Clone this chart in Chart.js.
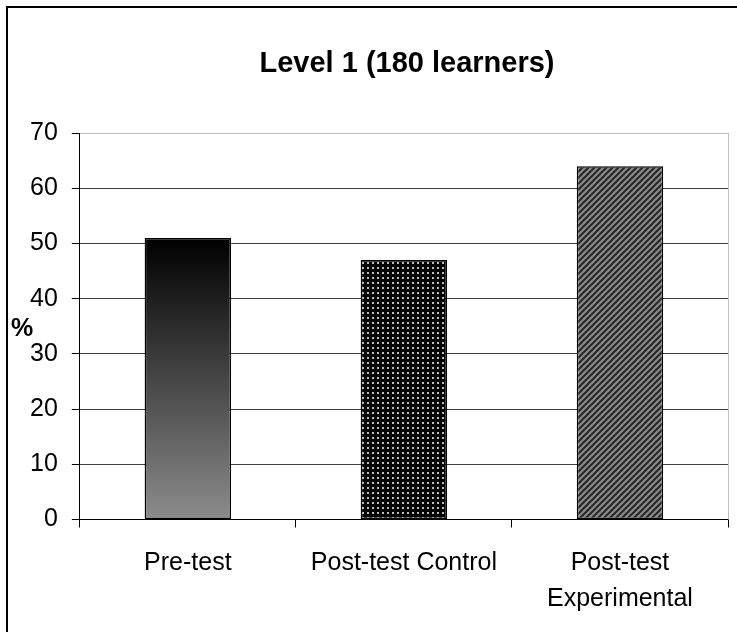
<!DOCTYPE html>
<html>
<head>
<meta charset="utf-8">
<script src="https://cdn.jsdelivr.net/npm/chart.js@4/dist/chart.umd.min.js"></script>
<style>
  html, body { margin: 0; padding: 0; background: #fff; overflow: hidden; }
  #wrap { position: relative; width: 737px; height: 632px; overflow: hidden; }
  #frame { position: absolute; left: 6px; top: 6px; width: 800px; height: 700px; border: 2px solid #000; box-sizing: border-box; }
  canvas { position: absolute; left: 0; top: 0; }
</style>
</head>
<body>
<div id="wrap">
  <div id="frame"></div>
  <canvas id="chart" width="737" height="632"></canvas>
</div>
<script>
const categories = ["Pre-test", "Post-test Control", ["Post-test", "Experimental"]];
const values = [51, 47, 64];
const yTicks = [0, 10, 20, 30, 40, 50, 60, 70];
const titleText = "Level 1 (180 learners)";
const yLabel = "%";

const FONT = "Arial, 'Liberation Sans', sans-serif";

// small tiles for the bar fills
function makeDots() {
  const c = document.createElement('canvas');
  c.width = 5; c.height = 5;
  const g = c.getContext('2d');
  g.fillStyle = '#000';
  g.fillRect(0, 0, 5, 5);
  g.fillStyle = '#bdbdbd';
  g.fillRect(2, 2, 2, 2);
  return g.createPattern(c, 'repeat');
}

function makeHatch() {
  const c = document.createElement('canvas');
  c.width = 6; c.height = 6;
  const g = c.getContext('2d');
  g.fillStyle = '#8a8a8a';
  g.fillRect(0, 0, 6, 6);
  g.strokeStyle = '#262626';
  g.lineWidth = 2;
  g.beginPath();
  g.moveTo(-1, 7); g.lineTo(7, -1);
  g.moveTo(-1, 1); g.lineTo(1, -1);
  g.moveTo(5, 7); g.lineTo(7, 5);
  g.stroke();
  return g.createPattern(c, 'repeat');
}

const dots = makeDots();
const hatch = makeHatch();

function barFill(ctx) {
  const i = ctx.dataIndex;
  if (i === 1) return dots;
  if (i === 2) return hatch;
  const chart = ctx.chart;
  const y = chart.scales && chart.scales.y;
  if (!chart.chartArea || !y) return '#444';
  const top = y.getPixelForValue(values[i]);
  const bottom = y.getPixelForValue(0);
  const grad = chart.ctx.createLinearGradient(0, top, 0, bottom);
  grad.addColorStop(0, '#000000');
  grad.addColorStop(1, '#8c8c8c');
  return grad;
}

const extras = {
  id: 'extras',
  afterDraw(chart) {
    const { ctx, chartArea } = chart;
    ctx.save();
    // light right border of plot area
    ctx.strokeStyle = '#c0c0c0';
    ctx.lineWidth = 1;
    ctx.beginPath();
    ctx.moveTo(Math.round(chartArea.right) + 0.5, chartArea.top);
    ctx.lineTo(Math.round(chartArea.right) + 0.5, chartArea.bottom);
    ctx.stroke();
    // title
    ctx.fillStyle = '#000';
    ctx.textAlign = 'center';
    ctx.textBaseline = 'alphabetic';
    ctx.font = "bold 29px " + FONT;
    ctx.fillText(titleText, 407, 72);
    // axis label
    ctx.font = "bold 25px " + FONT;
    ctx.textAlign = 'left';
    ctx.textBaseline = 'middle';
    ctx.fillText(yLabel, 11, 329);
    ctx.restore();
  }
};

new Chart(document.getElementById('chart'), {
  type: 'bar',
  data: {
    labels: categories,
    datasets: [{
      data: values,
      backgroundColor: barFill,
      borderColor: '#000',
      borderWidth: 1.5,
      borderSkipped: false,
      categoryPercentage: 1,
      barPercentage: 0.4
    }]
  },
  options: {
    responsive: false,
    animation: false,
    devicePixelRatio: 1,
    layout: { padding: { left: 16, right: 9, top: 133, bottom: -2 } },
    plugins: {
      legend: { display: false },
      title: { display: false },
      tooltip: { enabled: false }
    },
    scales: {
      x: {
        offset: true,
        grid: {
          offset: true,
          drawOnChartArea: false,
          drawTicks: true,
          tickLength: 8,
          color: '#000'
        },
        border: { display: true, color: '#000', width: 1 },
        ticks: {
          color: '#000',
          padding: 17,
          maxRotation: 0,
          autoSkip: false,
          font: { family: FONT, size: 25, lineHeight: 1.45 }
        }
      },
      y: {
        min: 0,
        max: 70,
        afterBuildTicks(scale) {
          scale.ticks = yTicks.map(v => ({ value: v }));
        },
        grid: {
          color: (c) => (c.tick && c.tick.value === 70 ? '#c0c0c0' : '#404040'),
          tickColor: '#000',
          drawTicks: true,
          tickLength: 8,
          lineWidth: 1
        },
        border: { display: true, color: '#000', width: 1 },
        ticks: {
          color: '#000',
          padding: 14,
          font: { family: FONT, size: 25 }
        }
      }
    }
  },
  plugins: [extras]
});
</script>
</body>
</html>
